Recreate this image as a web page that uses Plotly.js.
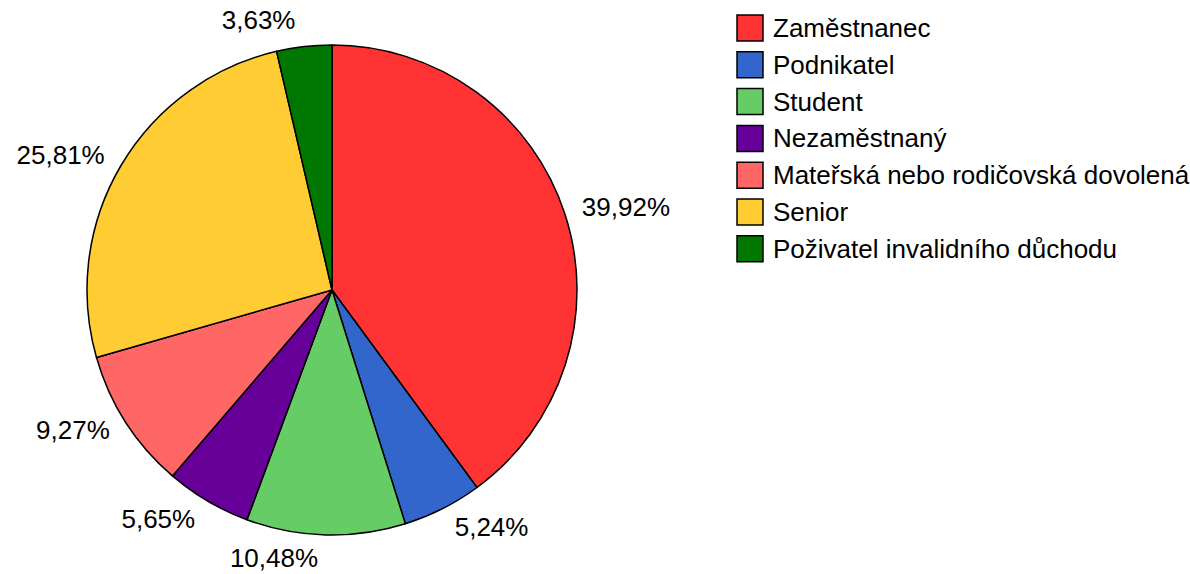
<!DOCTYPE html>
<html><head><meta charset="utf-8">
<script src="https://cdn.plot.ly/plotly-3.0.1.min.js"></script>
<style>body{margin:0;background:#fff}#c{width:1190px;height:574px}</style>
</head><body><div id="c"></div>
<script>
const categories = ["Zaměstnanec","Podnikatel","Student","Nezaměstnaný","Mateřská nebo rodičovská dovolená","Senior","Poživatel invalidního důchodu"];
const values = [39.92, 5.24, 10.48, 5.65, 9.27, 25.81, 3.63];
const labels = ["39,92%","5,24%","10,48%","5,65%","9,27%","25,81%","3,63%"];
const colors = ["#FF3333","#3366CC","#66CC66","#660099","#FF6666","#FFCC33","#007700"];

const W = 1190, H = 574;
const FONT = 'Liberation Sans, Arial, sans-serif';
const CX = 332, CY = 290, R = 245, RL = 255, LCY = 288;

const pie = {
  type: 'pie', labels: categories, values: values,
  textinfo: 'none', sort: false, direction: 'clockwise', rotation: 0,
  marker: {colors: colors, line: {color: '#000', width: 1.5}},
  automargin: false,
  domain: {x: [(CX-R)/W, (CX+R)/W], y: [(H-CY-R)/H, (H-CY+R)/H]},
  showlegend: false, hoverinfo: 'label+percent'
};
// transparent, slightly larger pie that only carries the outside labels
const labelPie = {
  type: 'pie', labels: categories, values: values, text: labels,
  textinfo: 'text', textposition: 'outside', sort: false, direction: 'clockwise', rotation: 0,
  marker: {colors: colors.map(() => 'rgba(0,0,0,0)'), line: {width: 0}},
  outsidetextfont: {family: FONT, size: 26, color: '#000'},
  automargin: false,
  domain: {x: [(CX-RL)/W, (CX+RL)/W], y: [(H-LCY-RL)/H, (H-LCY+RL)/H]},
  showlegend: false, hoverinfo: 'skip'
};

const shapes = [], annotations = [];
const lx0 = 737, ly0 = 15, box = 26, step = 36.8;
categories.forEach((c, i) => {
  const top = ly0 + i*step;
  shapes.push({type:'rect', xref:'paper', yref:'paper',
    x0: lx0/W, x1: (lx0+box)/W, y0: 1-(top+box)/H, y1: 1-top/H,
    fillcolor: colors[i], line:{color:'#000', width:1.5}});
  annotations.push({xref:'paper', yref:'paper', x:(lx0+box+8)/W, y:1-(top+box/2)/H,
    xanchor:'left', yanchor:'middle', text:c, showarrow:false,
    font:{family:FONT, size:26, color:'#000'}});
});

Plotly.newPlot('c', [labelPie, pie], {
  width: W, height: H, margin: {l:0, r:0, t:0, b:0},
  paper_bgcolor: '#fff', plot_bgcolor: '#fff',
  shapes: shapes, annotations: annotations,
  font: {family: FONT}
}, {displayModeBar: false, staticPlot: true});
</script></body></html>
